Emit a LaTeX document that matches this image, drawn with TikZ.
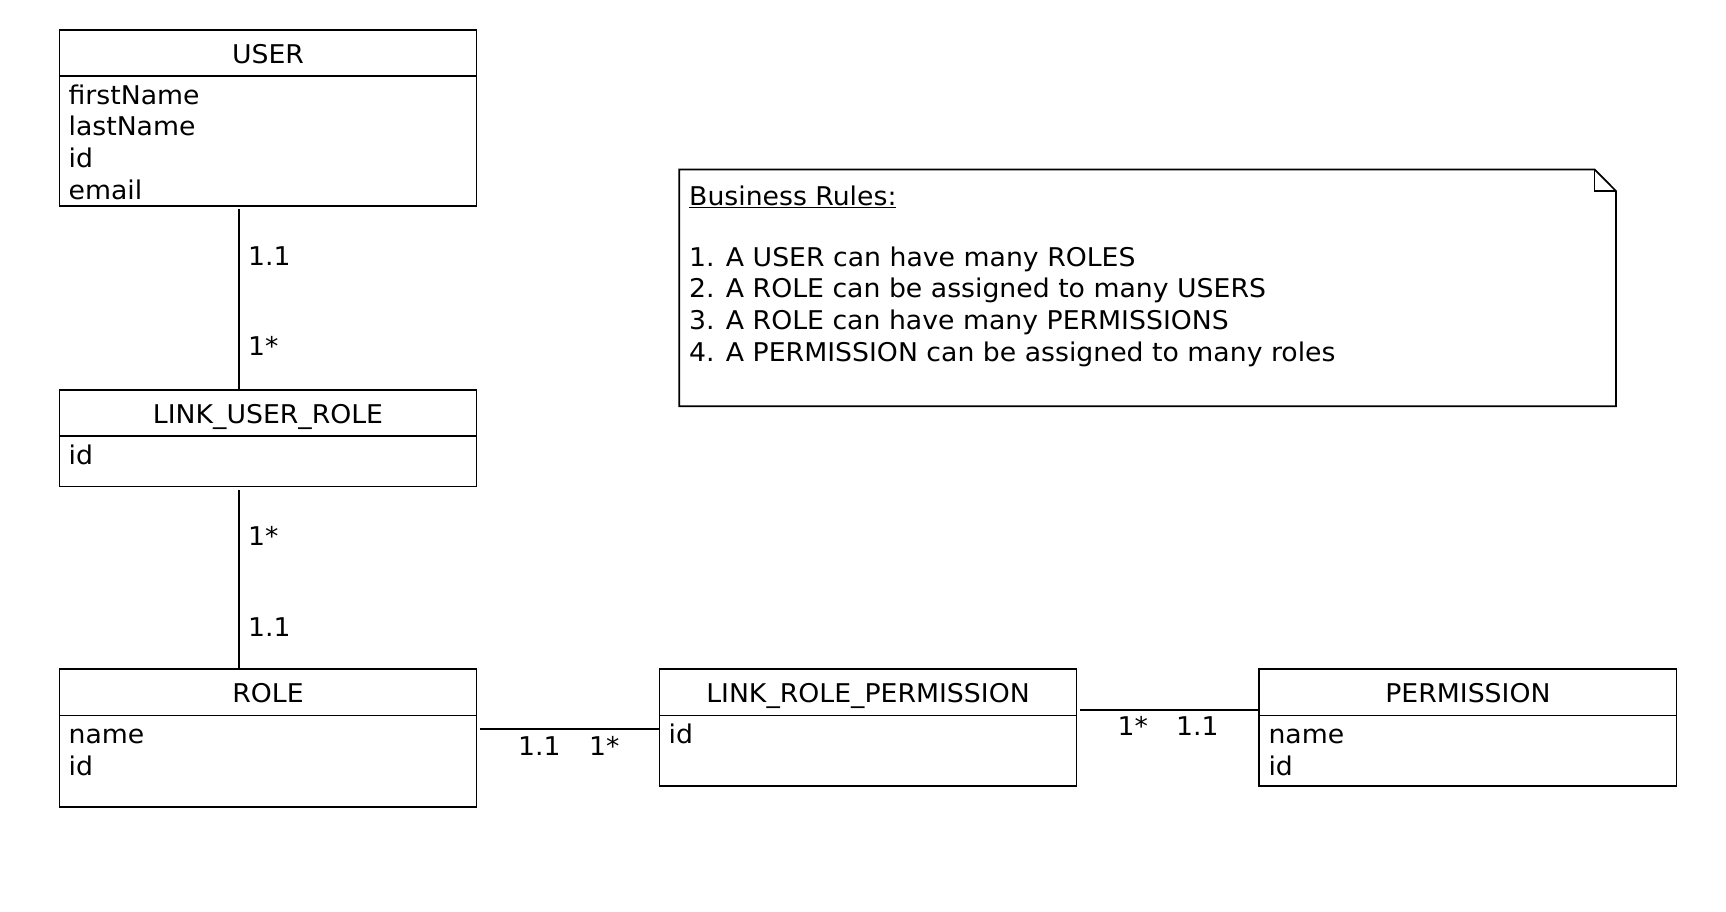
\documentclass[tikz,border=0pt]{standalone}
\usepackage{fontspec}
\setmainfont{DejaVu Sans}[FakeStretch=1.035]
\newcommand\umlfont{\fontsize{25.8}{32}\selectfont}
\tikzset{
  umlbox/.style={draw, line width=1.7pt, rectangle, inner sep=0pt, outer sep=0pt, anchor=north west},
  txt/.style={inner sep=0pt, anchor=base west, font=\umlfont},
  ttl/.style={inner sep=0pt, anchor=base, font=\umlfont},
  conn/.style={line width=1.7pt},
}
% name, x1, y1, x2, y2, yheader, title, attributes
\newcommand\umlclass[8]{%
  \node[umlbox, minimum width={#4-#2}, minimum height={#5-#3}] (#1) at (#2,#3) {};
  \draw[conn] (#1.west |- 0,#6) -- (#1.east |- 0,#6);
  \node[ttl] (#1-title) at ({(#2+#4)/2},{#6-12.6}) {#7};
  \foreach \a [count=\i from 0] in {#8}
    \node[txt] (#1-a\i) at ({#2+9},{#6+28.3+31.7*\i}) {\a};
}
\begin{document}
\begin{tikzpicture}[x=1pt,y=-1pt]
\useasboundingbox[fill=white] (0,0) rectangle (1726,912);

\umlclass{user}{59.4}{29.7}{476.6}{205.9}{76}{USER}{firstName,lastName,id,email}
\umlclass{lur}{59.4}{389.7}{476.6}{486.6}{435.9}{LINK\_USER\_ROLE}{id}
\umlclass{role}{59.4}{669}{476.6}{807}{715.5}{ROLE}{name,id}
\umlclass{lrp}{659.4}{669}{1076.6}{786}{715.5}{LINK\_ROLE\_PERMISSION}{id}
\umlclass{perm}{1259.3}{669}{1676.5}{786}{715.5}{PERMISSION}{name,id}

% connectors
\draw[conn, shorten <=3pt] (user.south -| 238.9,0) -- (lur.north -| 238.9,0);
\draw[conn, shorten <=3pt] (lur.south -| 238.9,0) -- (role.north -| 238.9,0);
\draw[conn, shorten <=3pt] (role.east |- 0,728.7) -- (lrp.west |- 0,728.7);
\draw[conn, shorten <=3pt] (lrp.east |- 0,710) -- (perm.west |- 0,710);

% multiplicities
\node[txt] (m1a) at (248,265.7) {1.1};
\node[txt] (m1b) at (248,355) {1*};
\node[txt] (m2a) at (248,545) {1*};
\node[txt] (m2b) at (248,636) {1.1};
\node[txt] (m3a) at (518,755.5) {1.1};
\node[txt] (m3b) at (589,755.5) {1*};
\node[txt] (m4a) at (1117.5,735.5) {1*};
\node[txt] (m4b) at (1176,735.5) {1.1};

% note
\node[inner sep=0pt, outer sep=0pt, minimum width=936.8, minimum height=236.7, anchor=north west] (note) at (679.2,169.5) {};
\draw[conn] (note.north west) -- ([xshift=-21.4pt]note.north east) -- ([yshift=-21.5pt]note.north east) -- (note.south east) -- (note.south west) -- cycle;
\draw[conn] ([xshift=-21.4pt]note.north east) -- ([xshift=-21.4pt,yshift=-21.5pt]note.north east) -- ([yshift=-21.5pt]note.north east);
\node[txt] (n0) at (689,205) {\underline{Business Rules:}};
\node[txt] (n1) at (689,266) {1. A USER can have many ROLES};
\node[txt] (n2) at (689,297.7) {2. A ROLE can be assigned to many USERS};
\node[txt] (n3) at (689,329.4) {3. A ROLE can have many PERMISSIONS};
\node[txt] (n4) at (689,361.1) {4. A PERMISSION can be assigned to many roles};
\end{tikzpicture}
\end{document}
